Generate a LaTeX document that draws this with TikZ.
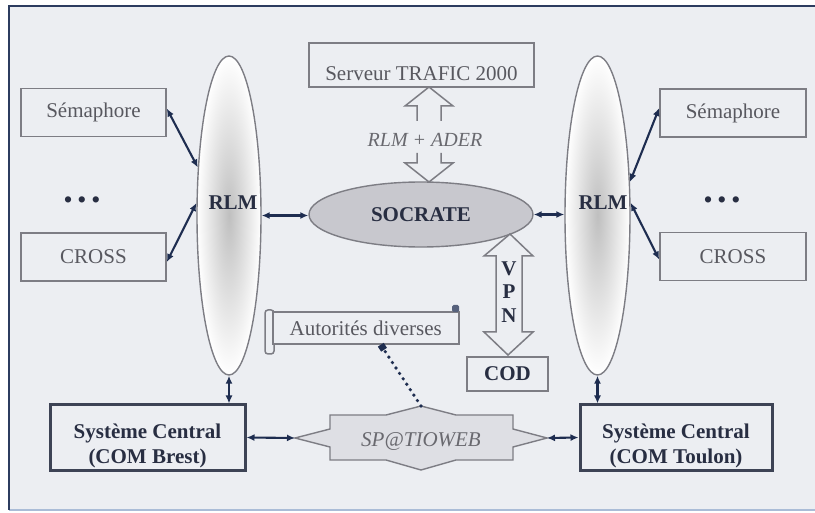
\documentclass[tikz,border=0pt]{standalone}
\usepackage{fontspec}
\setmainfont{Liberation Serif}
\usetikzlibrary{arrows.meta,shapes.geometric,calc}
\definecolor{bgfill}{RGB}{236,238,242}
\definecolor{framedark}{RGB}{44,60,95}
\definecolor{framelight}{RGB}{170,188,215}
\definecolor{linegray}{RGB}{125,125,132}
\definecolor{txtgray}{RGB}{88,88,95}
\definecolor{darktxt}{RGB}{40,46,66}
\definecolor{navy}{RGB}{30,45,80}
\definecolor{socfill}{RGB}{200,200,206}
\definecolor{spfill}{RGB}{222,223,228}
\tikzset{
  txt/.style={font=\fontsize{21}{25}\selectfont, text=txtgray, inner sep=0pt},
  boldtxt/.style={font=\fontsize{21}{25}\selectfont\bfseries, text=darktxt,
                  align=center, inner sep=0pt},
  itxt/.style={font=\fontsize{20}{24}\selectfont\itshape, text=txtgray!90, inner sep=0pt},
  sitebox/.style={rectangle, draw=linegray, line width=1.6pt, minimum width=145pt,
                  minimum height=48pt, inner sep=0pt, font=\fontsize{21}{25}\selectfont,
                  text=txtgray},
  serverbox/.style={rectangle, draw=linegray, line width=2.4pt, minimum width=225pt,
                    minimum height=44pt, inner sep=0pt},
  codbox/.style={rectangle, draw=linegray, line width=1.8pt, minimum width=81pt,
                 minimum height=34pt, inner sep=0pt},
  autbox/.style={rectangle, draw=linegray, line width=1.5pt, fill=bgfill, minimum width=186pt,
                 minimum height=32pt, inner sep=0pt, font=\fontsize{21}{25}\selectfont,
                 text=txtgray},
  centralbox/.style={rectangle, draw=darktxt!90, line width=3pt, minimum height=65pt,
                     inner sep=0pt},
  rlm/.style={ellipse, draw=linegray, line width=1.4pt, inner color=gray!50,
              outer color=white, minimum width=64pt, minimum height=319pt, inner sep=0pt},
  socrate/.style={ellipse, draw=linegray, line width=1.4pt, fill=socfill, minimum width=224pt,
                  minimum height=65pt, inner sep=0pt, font=\fontsize{21}{25}\selectfont\bfseries,
                  text=darktxt},
  link/.style={{Latex[length=8pt,width=7pt]}-{Latex[length=8pt,width=7pt]}, line width=2.1pt, navy},
  dotlink/.style={navy, line width=3.6pt, dash pattern=on 0pt off 6.5pt, line cap=round,
                  -{Square[length=6pt,width=7pt]}},
  hollow/.style={draw=linegray, line width=1.5pt, fill=bgfill, line join=miter},
}

\begin{document}
\begin{tikzpicture}[x=1pt, y=-1pt]
  % frame
  \useasboundingbox (0,0) rectangle (815,513);
  \fill[white] (0,0) rectangle (815,513);
  \fill[bgfill] (9,6) rectangle (815,510);
  \draw[framelight, line width=2pt] (9,510) -- (815,510);
  \draw[framedark, line width=2.6pt] (815,6) -- (9,6) -- (9,510);

  % RLM rings
  \node[rlm] (rlmL) at (229,215.5) {};
  \node[boldtxt] (rlmLTxt) at (233,203) {RLM};
  \node[rlm, minimum width=65pt] (rlmR) at (597.5,215.5) {};
  \node[boldtxt] (rlmRTxt) at (603,203) {RLM};

  % sites
  \node[sitebox] (semL) at (93.5,112.5) {Sémaphore};
  \node[boldtxt, font=\fontsize{23}{25}\selectfont\bfseries] (dotsL) at (82,202) {• • •};
  \node[sitebox] (crossL) at (93.5,257) {CROSS};
  \node[sitebox, minimum width=146pt] (semR) at (733,113) {Sémaphore};
  \node[boldtxt, font=\fontsize{23}{25}\selectfont\bfseries] (dotsR) at (722,202) {• • •};
  \node[sitebox, minimum width=146pt] (crossR) at (733,256.5) {CROSS};

  % centre
  \node[serverbox] (serveur) at (421.5,65) {};
  \node[txt] (serveurTxt) at (421.5,74) {Serveur TRAFIC 2000};
  \node[socrate] (socrate) at (421,214.5) {SOCRATE};
  \node[codbox, boldtxt] (cod) at (507.5,374) {COD};

  % hollow arrows
  \draw[hollow] (417,121) -- (417,106) -- (405,106) -- (429,87) -- (453,106) -- (441,106) -- (441,121);
  \draw[hollow] (417,153) -- (417,163) -- (405,163) -- (429,182) -- (453,163) -- (441,163) -- (441,153);
  \node[itxt] (rlmAder) at (425,140) {RLM + ADER};
  \draw[hollow] (496,256) -- (484,256) -- (510,234) -- (533,256) -- (522,256) -- (522,332)
    -- (533,332) -- (508,355) -- (484,332) -- (496,332) -- cycle;
  \node[boldtxt, font=\fontsize{21}{23.5}\selectfont\bfseries] (vpn) at (509,292) {V\\P\\N};

  % scroll
  \draw[linegray, line width=1.5pt, fill=bgfill, rounded corners=3pt] (265,310) rectangle (274,354);
  \node[autbox, anchor=west] (aut) at (272,328) {Autorités diverses};
  \fill[navy!75, rounded corners=1.5pt] (452,305) rectangle (459,312);

  % central systems
  \node[centralbox, minimum width=195pt] (brest) at (147.5,437.5) {};
  \node[boldtxt] (brestTxt) at (147.5,446) {Système Central\\(COM Brest)};
  \node[centralbox, minimum width=192pt] (toulon) at (676,437.5) {};
  \node[boldtxt] (toulonTxt) at (676,446) {Système Central\\(COM Toulon)};

  % SP@TIOWEB
  \coordinate (spL) at (295,438);
  \coordinate (spR) at (547,438);
  \coordinate (spT) at (421,406);
  \draw[linegray, line width=1.4pt, fill=spfill] (spL) -- (330,429) -- (330,415) -- (386,415)
    -- (spT) -- (456,415) -- (513,415) -- (513,429) -- (spR) -- (513,447) -- (513,460)
    -- (456,460) -- (421,470) -- (386,460) -- (330,460) -- (330,447) -- cycle;
  \node[itxt, font=\fontsize{21}{25}\selectfont\itshape] (sp) at (421,442) {SP@TIOWEB};

  % links
  \draw[link] ([yshift=4pt]semL.east) -- (rlmL.123);
  \draw[link] ([yshift=-5pt]crossL.east) -- (rlmL.159);
  \draw[link] (rlmR.46) -- ([yshift=5pt]semR.west);
  \draw[link] (rlmR.21) -- ([yshift=-3pt]crossR.west);
  \draw[link] (rlmL.east) -- (rlmL.east -| socrate.west);
  \draw[link] (socrate.east) -- (socrate.east -| rlmR.west);
  \draw[link] (rlmL.south) -- (rlmL.south |- brest.north);
  \draw[link] (rlmR.south) -- (rlmR.south |- toulon.north);
  \draw[link] (brest.east) -- (spL);
  \draw[link] (spR) -- (toulon.west);
  \draw[dotlink] (spT) -- ([xshift=15pt]aut.south);
\end{tikzpicture}
\end{document}
